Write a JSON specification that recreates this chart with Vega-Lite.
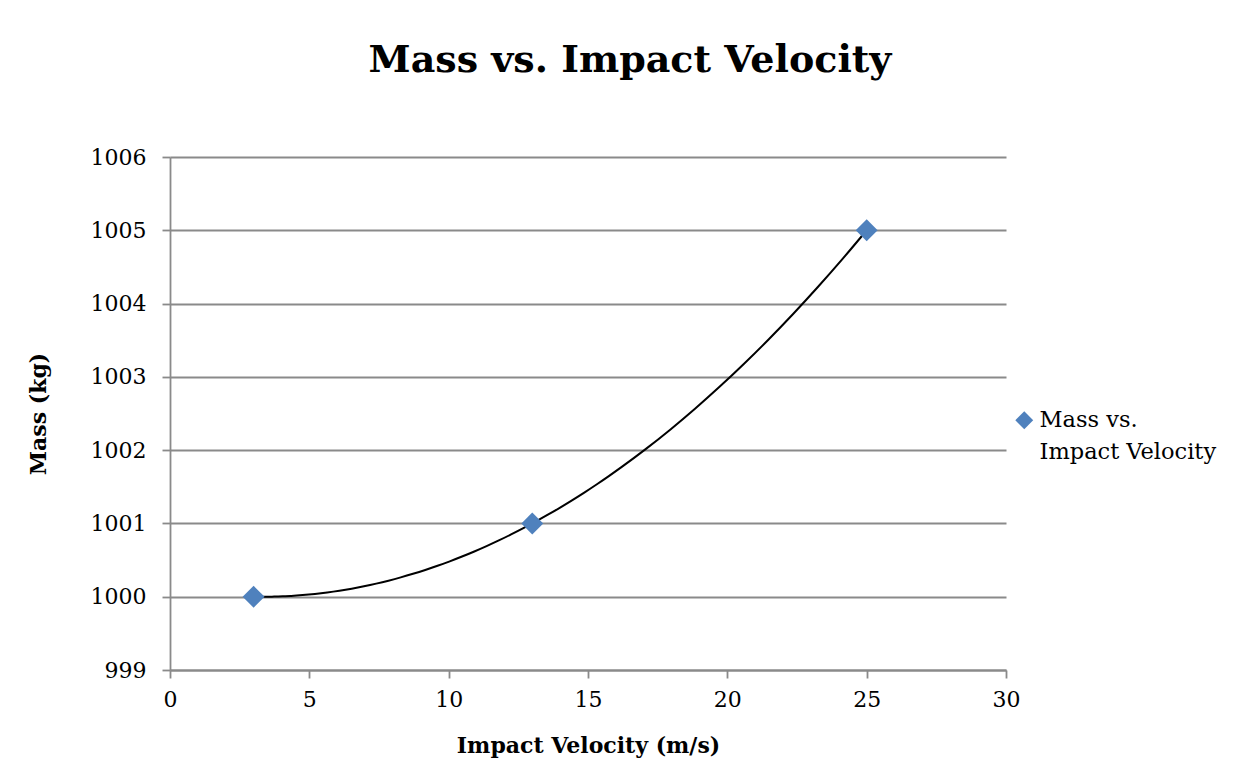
{
  "$schema": "https://vega.github.io/schema/vega-lite/v6.json",
  "width": 836,
  "height": 513,
  "autosize": {"type": "none"},
  "padding": {"left": 170, "top": 157, "right": 247, "bottom": 112},
  "background": "white",
  "config": {
    "font": "DejaVu Serif",
    "view": {"stroke": null},
    "axis": {
      "gridColor": "#8a8a8a", "gridWidth": 1.8, "gridOpacity": 1,
      "domainColor": "#8a8a8a", "domainWidth": 1.8,
      "tickColor": "#8a8a8a", "tickWidth": 1.8, "tickSize": 8,
      "labelFont": "DejaVu Serif", "labelFontSize": 22, "labelColor": "black", "labelFlush": false,
      "titleFont": "DejaVu Serif", "titleFontSize": 22, "titleFontWeight": "bold", "titleColor": "black"
    }
  },
  "title": {
    "text": "Mass vs. Impact Velocity",
    "font": "DejaVu Serif", "fontSize": 38, "fontWeight": "bold", "color": "black",
    "anchor": "middle", "dx": 42, "baseline": "alphabetic", "offset": 36
  },
  "data": {
    "values": [
      {"velocity": 3, "mass": 1000, "series": "Mass vs. Impact Velocity"},
      {"velocity": 13, "mass": 1001, "series": "Mass vs. Impact Velocity"},
      {"velocity": 25, "mass": 1005, "series": "Mass vs. Impact Velocity"}
    ]
  },
  "layer": [
    {
      "transform": [{"regression": "mass", "on": "velocity", "method": "poly", "order": 2, "extent": [3, 25]}],
      "mark": {"type": "line", "color": "black", "strokeWidth": 2, "interpolate": "monotone"},
      "encoding": {
        "x": {"field": "velocity", "type": "quantitative"},
        "y": {"field": "mass", "type": "quantitative"}
      }
    },
    {
      "mark": {"type": "point", "shape": "diamond", "filled": true, "size": 480, "opacity": 1},
      "encoding": {
        "x": {
          "field": "velocity", "type": "quantitative",
          "scale": {"domain": [0, 30], "nice": false, "zero": false},
          "axis": {"values": [0, 5, 10, 15, 20, 25, 30], "grid": false, "title": "Impact Velocity (m/s)", "labelPadding": 11, "titlePadding": 25}
        },
        "y": {
          "field": "mass", "type": "quantitative",
          "scale": {"domain": [999, 1006], "nice": false, "zero": false},
          "axis": {"values": [999, 1000, 1001, 1002, 1003, 1004, 1005, 1006], "grid": true, "title": "Mass (kg)", "labelPadding": 16, "titlePadding": 40, "format": "d"}
        },
        "color": {
          "field": "series", "type": "nominal",
          "scale": {"domain": ["Mass vs. Impact Velocity"], "range": ["#4F81BD"]},
          "legend": {
            "title": null, "orient": "none", "legendX": 843, "legendY": 252,
            "symbolType": "diamond", "symbolSize": 320, "symbolOpacity": 1,
            "labelExpr": "['Mass vs.', 'Impact Velocity']",
            "labelFont": "DejaVu Serif", "labelFontSize": 22.5, "labelColor": "black",
            "labelLimit": 0, "labelOffset": 4, "labelBaseline": "middle",
            "encode": {"labels": {"update": {"lineHeight": {"value": 32}}}}
          }
        }
      }
    }
  ]
}
